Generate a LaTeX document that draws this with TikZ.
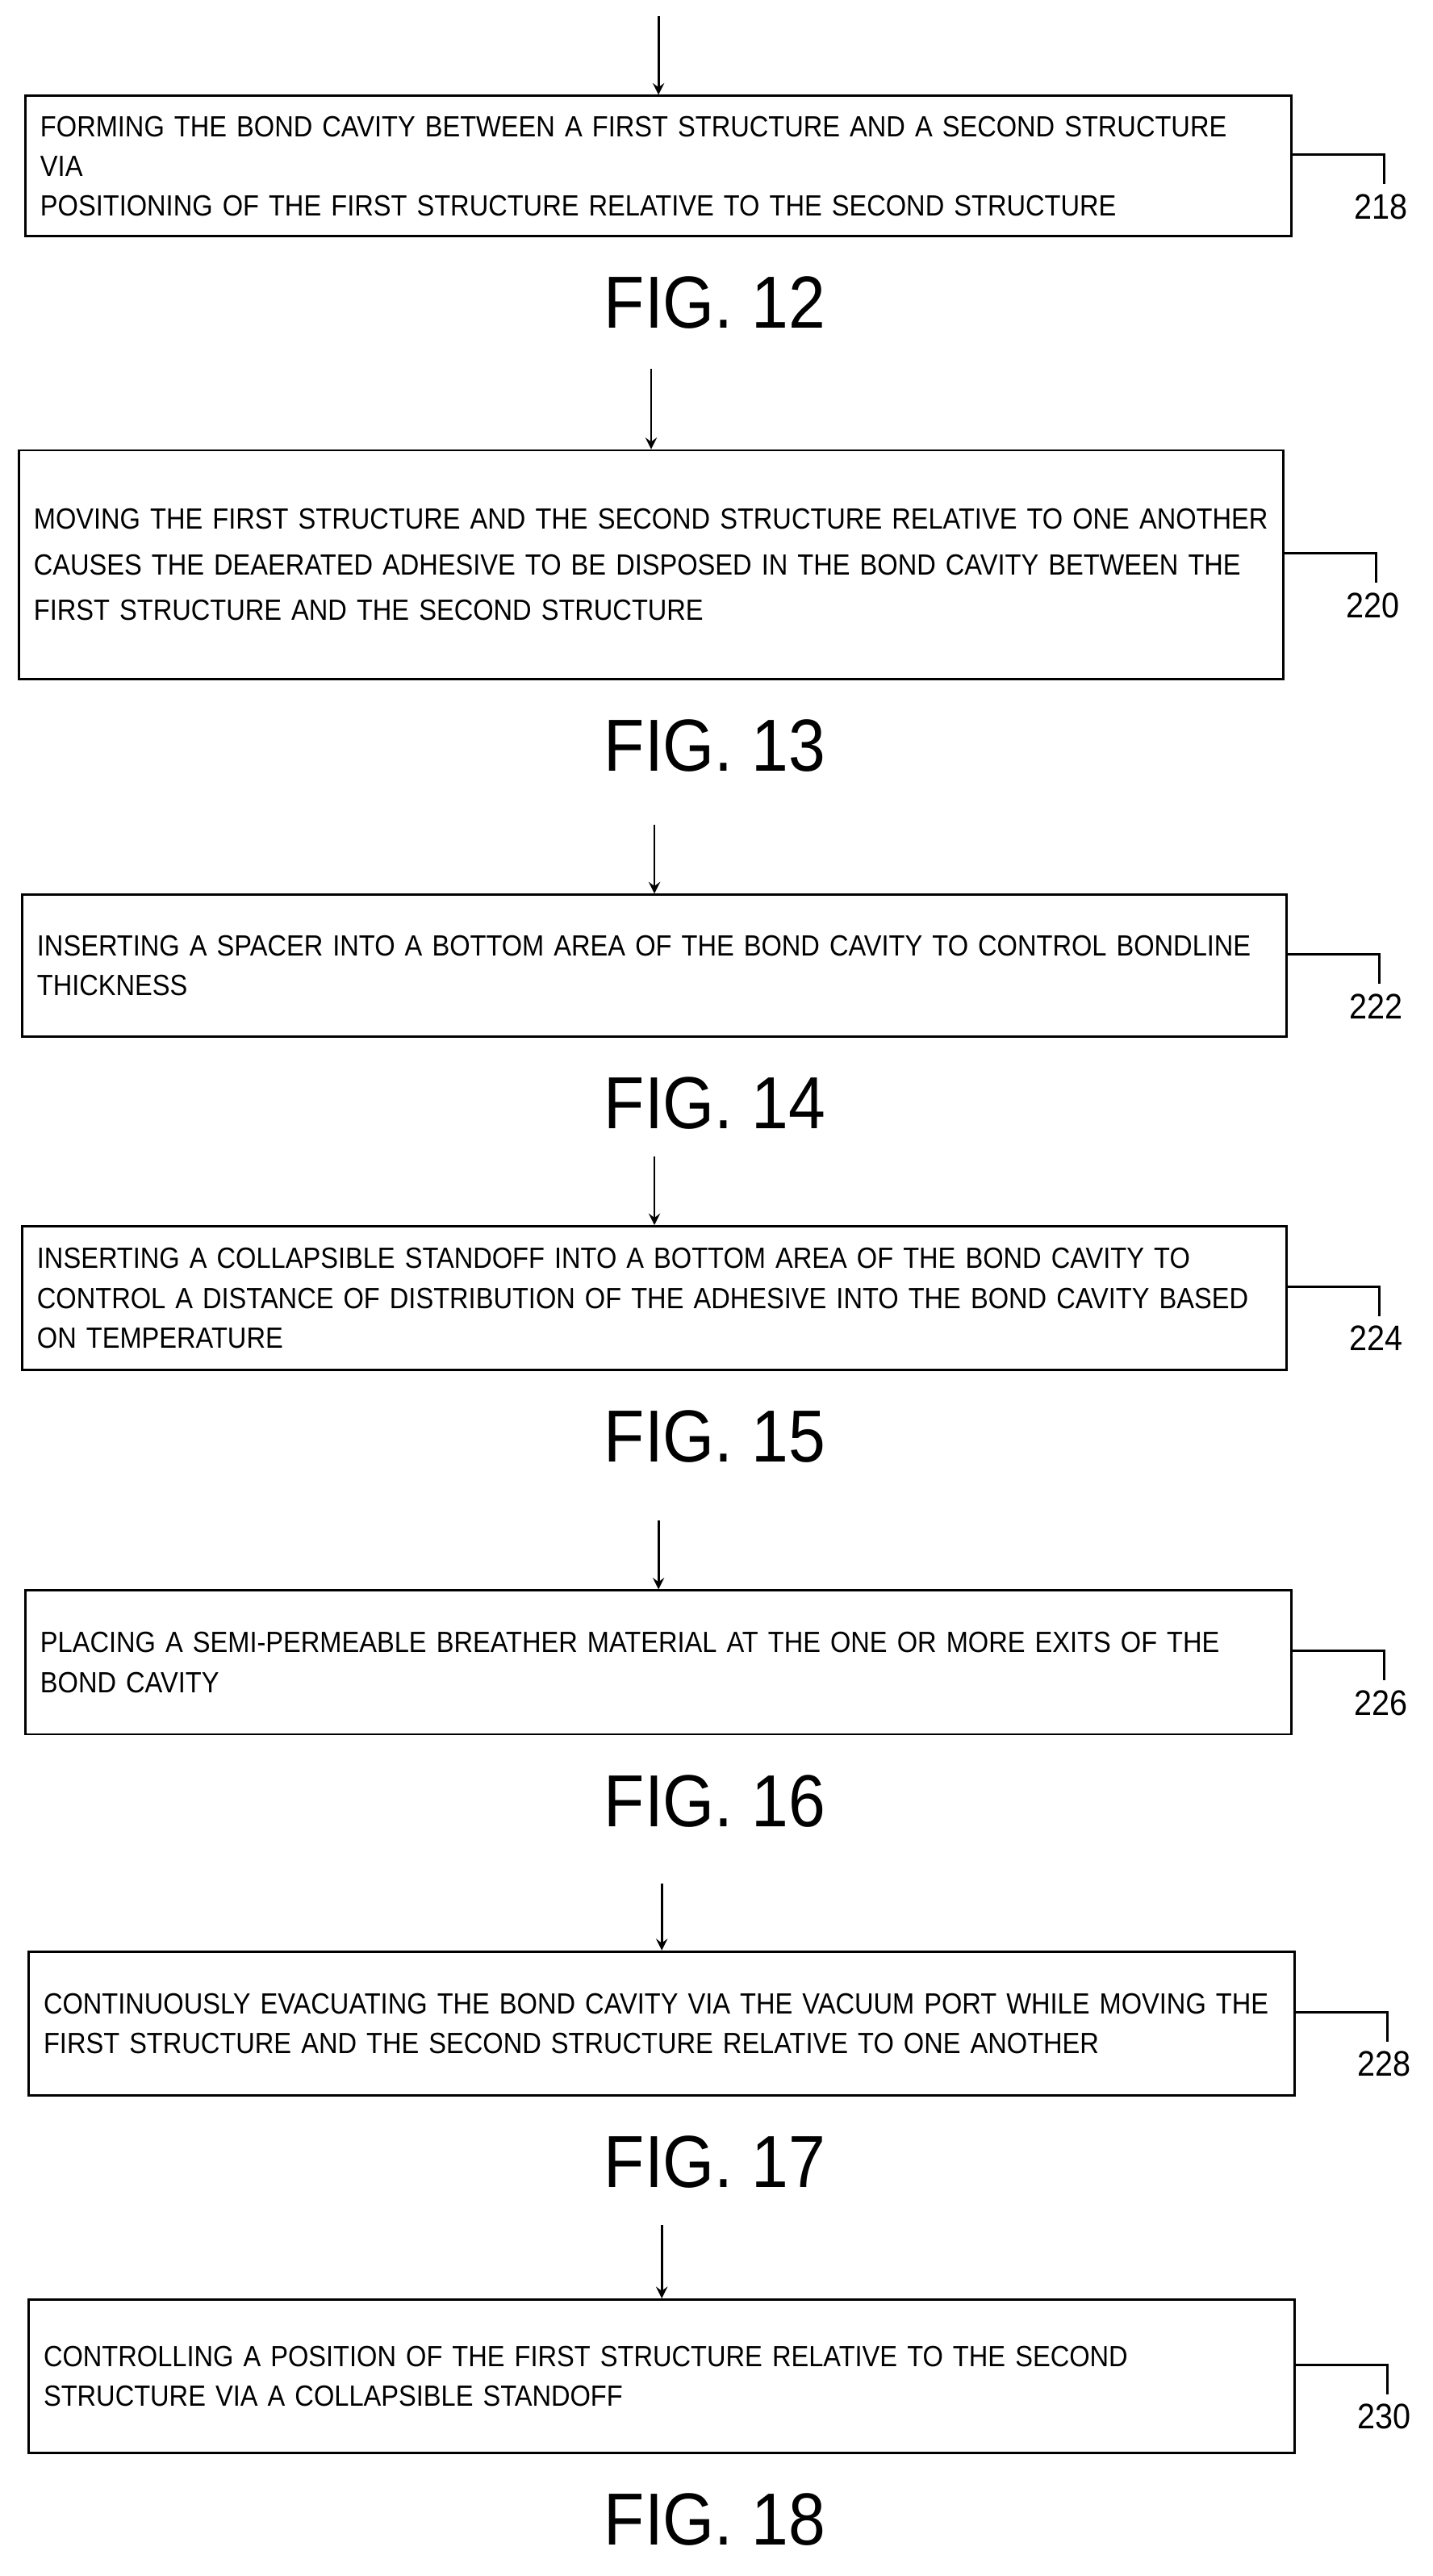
\documentclass[tikz,border=0pt]{standalone}
\usepackage{fontspec}
\setmainfont[FakeStretch=0.9]{Liberation Sans}
\usetikzlibrary{calc}

\begin{document}
\begin{tikzpicture}[x=0.02024cm,y=-0.02024cm,
    stepbox/.style={draw, thick, anchor=north west, inner sep=0pt, font=\fontsize{10.3}{14}\selectfont},
    fig/.style={font=\fontsize{26}{30}\selectfont},
    ref/.style={font=\fontsize{12.5}{15}\selectfont}]
    % Page frame
    \useasboundingbox (0,0) rectangle (877,1577);
    % Steps: number/left/top/width/height/arrow start/figure/text
    \foreach \n/\x/\y/\w/\h/\a/\f/\t in {
        218/15/58/775/86/10/12/{FORMING THE BOND CAVITY BETWEEN A FIRST STRUCTURE AND A SECOND STRUCTURE VIA\\POSITIONING OF THE FIRST STRUCTURE RELATIVE TO THE SECOND STRUCTURE},
        220/11/275/774/140/226/13/{MOVING THE FIRST STRUCTURE AND THE SECOND STRUCTURE RELATIVE TO ONE ANOTHER\\[2pt]CAUSES THE DEAERATED ADHESIVE TO BE DISPOSED IN THE BOND CAVITY BETWEEN THE\\[2pt]FIRST STRUCTURE AND THE SECOND STRUCTURE},
        222/13/547/774/87/505/14/{INSERTING A SPACER INTO A BOTTOM AREA OF THE BOND CAVITY TO CONTROL BONDLINE\\THICKNESS},
        224/13/750/774/88/708/15/{INSERTING A COLLAPSIBLE STANDOFF INTO A BOTTOM AREA OF THE BOND CAVITY TO\\CONTROL A DISTANCE OF DISTRIBUTION OF THE ADHESIVE INTO THE BOND CAVITY BASED\\ON TEMPERATURE},
        226/15/973/775/88/931/16/{PLACING A SEMI-PERMEABLE BREATHER MATERIAL AT THE ONE OR MORE EXITS OF THE\\BOND CAVITY},
        228/17/1194/775/88/1153/17/{CONTINUOUSLY EVACUATING THE BOND CAVITY VIA THE VACUUM PORT WHILE MOVING THE\\FIRST STRUCTURE AND THE SECOND STRUCTURE RELATIVE TO ONE ANOTHER},
        230/17/1407/775/94/1362/18/{CONTROLLING A POSITION OF THE FIRST STRUCTURE RELATIVE TO THE SECOND\\STRUCTURE VIA A COLLAPSIBLE STANDOFF}
    } {
        % Box
        \node[stepbox, minimum width=\w*0.02024cm, minimum height=\h*0.02024cm,
              text width=(\w-18)*0.02024cm, align=left, inner xsep=9*0.02024cm]
            (box\n) at (\x,\y) {\t};
        % Incoming arrow
        \coordinate (in\n) at ($(box\n.north)+(0,\a-\y)$);
        \draw[thick, ->, >=stealth] (in\n) -- (box\n.north);
        % Leader line and number
        \coordinate (lead\n) at ($(box\n.east)+(56,-7)$);
        \draw[thick] (box\n.east |- lead\n) -- (lead\n) -- ++(0,18) coordinate (end\n);
        \node[ref, anchor=north] (num\n) at ($(end\n)+(-2,0)$) {\n};
        % Figure caption
        \node[fig, anchor=north] (fig\n) at ($(box\n.south)+(437-\x-\w/2,18)$) {FIG. \f};
    }
\end{tikzpicture}
\end{document}
